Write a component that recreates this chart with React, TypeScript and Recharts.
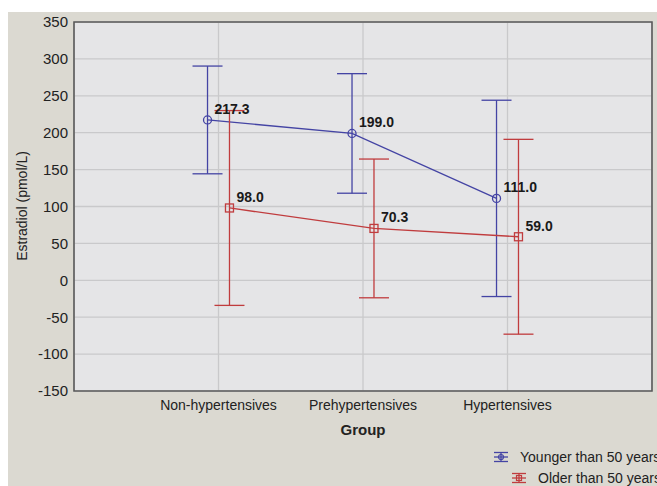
import React from 'react';
import { ComposedChart, Line, XAxis, YAxis, CartesianGrid, ErrorBar, LabelList, ReferenceArea } from 'recharts';

const categories = ['Non-hypertensives', 'Prehypertensives', 'Hypertensives'];
const youngerMeans = [217.3, 199.0, 111.0];
const youngerErr = [73, 81, 133];
const olderMeans = [98.0, 70.3, 59.0];
const olderErr = [132, 94, 132];
const yTicks = [-150, -100, -50, 0, 50, 100, 150, 200, 250, 300, 350];
const seriesNames = ['Younger than 50 years', 'Older than 50 years'];

const BLUE = '#4444a4';
const RED = '#c03c3e';
const FONT = '"Liberation Sans", Arial, sans-serif';
const DODGE = 0.076;

const build = (means: number[], errs: number[], shift: number) =>
  means.map((m, i) => ({ x: i + 1 + shift, y: m, err: errs[i], label: m.toFixed(1) }));

const youngerData = build(youngerMeans, youngerErr, -DODGE);
const olderData = build(olderMeans, olderErr, DODGE);

const CircleDot = (p: any) => (
  <circle cx={p.cx} cy={p.cy} r={4} fill="none" stroke={BLUE} strokeWidth={1.3} />
);
const SquareDot = (p: any) => (
  <rect x={p.cx - 4} y={p.cy - 4} width={8} height={8} fill="none" stroke={RED} strokeWidth={1.3} />
);

const ValueLabel = (p: any) => (
  <text x={p.x + 7} y={p.y - 6} fontFamily={FONT} fontSize={14} fontWeight="bold" fill="#1a1a1a">
    {p.value}
  </text>
);

const LegendIcon = ({ color, square }: { color: string; square?: boolean }) => (
  <svg width={18} height={12} style={{ display: 'block' }}>
    <line x1={2} x2={16} y1={1.5} y2={1.5} stroke={color} strokeWidth={1.3} />
    <line x1={2} x2={16} y1={10.5} y2={10.5} stroke={color} strokeWidth={1.3} />
    <line x1={9} x2={9} y1={1.5} y2={10.5} stroke={color} strokeWidth={1.3} />
    <line x1={2} x2={16} y1={6} y2={6} stroke={color} strokeWidth={1.3} />
    {square ? (
      <rect x={6.5} y={3.5} width={5} height={5} fill="none" stroke={color} strokeWidth={1.2} />
    ) : (
      <circle cx={9} cy={6} r={2.5} fill="none" stroke={color} strokeWidth={1.2} />
    )}
  </svg>
);

export default function App() {
  return (
    <div style={{ position: 'absolute', left: 0, top: 0, width: 657, height: 486, overflow: 'hidden', background: '#ffffff' }}>
      <div style={{ position: 'absolute', left: 8, top: 12, right: 0, bottom: 0, background: '#dbd9d1' }} />
      <div style={{ position: 'absolute', left: 0, top: 0 }}>
        <ComposedChart width={657} height={486} margin={{ top: 22, right: 5, bottom: 65, left: 0 }}>
          <CartesianGrid stroke="#c9c9cb" strokeWidth={1.3} fill="#e5e5e7" />
          <ReferenceArea x1={0} x2={4} y1={-150} y2={350} fill="none" stroke="#5a5a5a" strokeWidth={1.6} />
          <XAxis
            dataKey="x"
            type="number"
            domain={[0, 4]}
            ticks={[1, 2, 3]}
            tickFormatter={(v: number) => categories[v - 1]}
            axisLine={false}
            tickLine={false}
            tickSize={0}
            tickMargin={9}
            height={30}
            tick={{ fontFamily: FONT, fontSize: 14, fill: '#222' }}
            label={{ value: 'Group', position: 'bottom', offset: 3, style: { fontFamily: FONT, fontSize: 15, fontWeight: 'bold', fill: '#222' } }}
          />
          <YAxis
            type="number"
            domain={[-150, 350]}
            ticks={yTicks}
            axisLine={false}
            tickLine={false}
            tickSize={0}
            tickMargin={6}
            width={74}
            tick={{ fontFamily: FONT, fontSize: 15, fill: '#222' }}
            label={{
              content: () => (
                <text x={22} y={206} transform="rotate(-90 22 206)" textAnchor="middle" dominantBaseline="central" fontFamily={FONT} fontSize={14} fill="#222">
                  Estradiol (pmol/L)
                </text>
              ),
            }}
          />
          <Line data={youngerData} dataKey="y" type="linear" stroke={BLUE} strokeWidth={1.3} dot={<CircleDot />} activeDot={false} isAnimationActive={false}>
            <ErrorBar dataKey="err" width={15} stroke={BLUE} strokeWidth={1.3} direction="y" />
            <LabelList dataKey="label" content={<ValueLabel />} />
          </Line>
          <Line data={olderData} dataKey="y" type="linear" stroke={RED} strokeWidth={1.3} dot={<SquareDot />} activeDot={false} isAnimationActive={false}>
            <ErrorBar dataKey="err" width={15} stroke={RED} strokeWidth={1.3} direction="y" />
            <LabelList dataKey="label" content={<ValueLabel />} />
          </Line>
        </ComposedChart>
      </div>
      <div style={{ position: 'absolute', left: 492, top: 449, display: 'flex', alignItems: 'center', whiteSpace: 'nowrap', fontFamily: FONT, fontSize: 14, color: '#222' }}>
        <LegendIcon color={BLUE} />
        <span style={{ marginLeft: 10 }}>{seriesNames[0]}</span>
      </div>
      <div style={{ position: 'absolute', left: 510, top: 470, display: 'flex', alignItems: 'center', whiteSpace: 'nowrap', fontFamily: FONT, fontSize: 14, color: '#222' }}>
        <LegendIcon color={RED} square />
        <span style={{ marginLeft: 10 }}>{seriesNames[1]}</span>
      </div>
    </div>
  );
}
